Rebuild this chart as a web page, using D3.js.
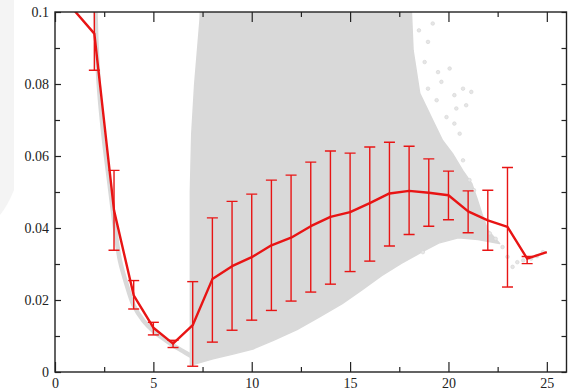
<!DOCTYPE html>
<html>
<head>
<meta charset="utf-8">
<script src="https://cdn.jsdelivr.net/npm/d3@7"></script>
<style>
  body { margin: 0; background: #fff; }
  svg { display: block; }
</style>
</head>
<body>
<div id="chart"></div>
<script>
// mean curve with error bars
const xs     = [1, 2, 3, 4, 5, 6, 7, 8, 9, 10, 11, 12, 13, 14, 15, 16, 17, 18, 19, 20, 21, 22, 23, 24, 25];
const means  = [0.1003, 0.094, 0.0449, 0.0213, 0.0123, 0.0079, 0.013, 0.0258, 0.0294, 0.0319, 0.0352, 0.0373, 0.0405, 0.0431, 0.0444, 0.0469, 0.0496, 0.0503, 0.0498, 0.0491, 0.0446, 0.0421, 0.0403, 0.0315, 0.0333];
const errLow = [null, 0.0838, 0.0338, 0.0175, 0.0103, 0.0068, 0.0016, 0.0083, 0.0116, 0.0144, 0.0171, 0.0197, 0.0222, 0.0244, 0.0279, 0.0308, 0.035, 0.0382, 0.0405, 0.0423, 0.0387, 0.0338, 0.0236, 0.0301, null];
const errHigh= [null, 0.1042, 0.056, 0.0254, 0.0138, 0.0088, 0.0251, 0.0428, 0.0474, 0.0494, 0.0533, 0.0547, 0.0583, 0.0614, 0.0608, 0.0625, 0.0638, 0.0627, 0.0592, 0.0558, 0.0503, 0.0505, 0.0568, 0.0321, null];

// thin grey band of samples for small x
const bandX = [2.05, 2.12, 2.25, 2.5, 2.8, 3.05, 3.3, 3.6, 4.0, 4.5, 5.0, 5.5, 6.0, 6.5, 6.9];
const bandY = [0.102, 0.09, 0.078, 0.064, 0.051, 0.04, 0.031, 0.025, 0.0185, 0.0142, 0.0114, 0.0093, 0.0074, 0.0058, 0.0045];

// outline of the dense grey cloud (clockwise from bottom left)
const cloudX = [6.88, 6.88, 6.95, 7.1, 7.37, 7.4, 18.1, 18.12, 18.2, 18.54, 19.2, 19.7, 20.2, 20.72, 21.18, 21.43, 21.69, 22.0, 22.6, 21.5, 20.5, 19.5, 18.7, 17.6, 16.6, 15.6, 14.6, 13.4, 12.3, 11.1, 10.06, 9.0, 8.03];
const cloudY = [0.0019, 0.05, 0.066, 0.08, 0.0977, 0.102, 0.102, 0.0996, 0.0894, 0.0774, 0.0699, 0.0643, 0.0607, 0.056, 0.0524, 0.0485, 0.0441, 0.0394, 0.0357, 0.0368, 0.0373, 0.0358, 0.0335, 0.0302, 0.0268, 0.0228, 0.019, 0.0152, 0.0118, 0.0088, 0.0064, 0.0049, 0.0037];

// stray samples outside the dense cloud
const strayX = [19.2, 18.5, 18.96, 18.79, 20.06, 19.47, 19.64, 18.96, 20.74, 21.16, 20.3, 19.4, 20.9, 20.4, 19.9, 20.3, 20.57, 20.74, 21.07, 21.3, 22.1, 22.4, 22.75, 23.0, 23.26, 23.5, 23.8, 24.2, 24.5, 24.8, 18.7];
const strayY = [0.0968, 0.0949, 0.0917, 0.0861, 0.0843, 0.0833, 0.0806, 0.0787, 0.0787, 0.0778, 0.0769, 0.0755, 0.0741, 0.0732, 0.0708, 0.069, 0.0662, 0.0588, 0.0533, 0.0505, 0.0385, 0.037, 0.0347, 0.032, 0.0292, 0.0305, 0.031, 0.0315, 0.0322, 0.0333, 0.0333];

const xTicks = [0, 5, 10, 15, 20, 25];
const xMinor = [2.5, 7.5, 12.5, 17.5, 22.5];
const yTicks = [0, 0.02, 0.04, 0.06, 0.08, 0.1];
const yMinor = [0.01, 0.03, 0.05, 0.07, 0.09];

const W = 570, H = 390;
const margin = { top: 12, right: 3.5, bottom: 18, left: 55 };
const FONT = 'Liberation Serif';

const svg = d3.select('#chart').append('svg').attr('width', W).attr('height', H);

// faint page backdrop on the left
svg.append('path')
  .attr('d', 'M0,0 L14,0 L14,190 Q8,205 0,215 Z')
  .attr('fill', '#f4f4f4');

const x = d3.scaleLinear().domain([0, 26]).range([margin.left, W - margin.right]);
const y = d3.scaleLinear().domain([0, 0.1]).range([H - margin.bottom, margin.top]);

svg.append('clipPath').attr('id', 'plot')
  .append('rect')
  .attr('x', x(0)).attr('y', y(0.1))
  .attr('width', x(26) - x(0)).attr('height', y(0) - y(0.1));

const g = svg.append('g').attr('clip-path', 'url(#plot)');

// grey cloud
g.append('path')
  .datum(d3.zip(cloudX, cloudY))
  .attr('d', d3.line().x(d => x(d[0])).y(d => y(d[1])).curve(d3.curveLinearClosed))
  .attr('fill', '#d9d9d9')
  .attr('stroke', '#d9d9d9')
  .attr('stroke-width', 1.5)
  .attr('stroke-linejoin', 'round');

g.append('path')
  .datum(d3.zip(bandX, bandY))
  .attr('d', d3.line().x(d => x(d[0])).y(d => y(d[1])).curve(d3.curveCatmullRom))
  .attr('fill', 'none')
  .attr('stroke', '#d9d9d9')
  .attr('stroke-width', 4.5)
  .attr('stroke-linecap', 'round');

g.selectAll('.stray')
  .data(d3.zip(strayX, strayY))
  .enter().append('circle')
  .attr('class', 'stray')
  .attr('cx', d => x(d[0]))
  .attr('cy', d => y(d[1]))
  .attr('r', 1.8)
  .attr('fill', '#e6e6e6')
  .attr('stroke', '#d4d4d4')
  .attr('stroke-width', 0.6);

// error bars
const red = '#e81414';
const bars = g.selectAll('.err')
  .data(xs.map((v, i) => ({ x: v, lo: errLow[i], hi: errHigh[i] })).filter(d => d.lo !== null))
  .enter().append('g')
  .attr('class', 'err')
  .attr('stroke', red)
  .attr('stroke-width', 1.4);

bars.append('line')
  .attr('x1', d => x(d.x)).attr('x2', d => x(d.x))
  .attr('y1', d => y(d.lo)).attr('y2', d => y(d.hi));
bars.append('line')
  .attr('x1', d => x(d.x) - 5.5).attr('x2', d => x(d.x) + 5.5)
  .attr('y1', d => y(d.lo)).attr('y2', d => y(d.lo));
bars.append('line')
  .attr('x1', d => x(d.x) - 5.5).attr('x2', d => x(d.x) + 5.5)
  .attr('y1', d => y(d.hi)).attr('y2', d => y(d.hi));

// mean line
g.append('path')
  .datum(d3.zip(xs, means))
  .attr('d', d3.line().x(d => x(d[0])).y(d => y(d[1])))
  .attr('fill', 'none')
  .attr('stroke', red)
  .attr('stroke-width', 2.4)
  .attr('stroke-linejoin', 'round');

// axes, ticks pointing inward on all four sides
const fmtY = d => d === 0 ? '0' : d3.format('.2~f')(d);

function styleAxis(a) {
  a.attr('font-family', FONT).attr('font-size', 14);
  a.select('.domain').remove();
  a.selectAll('.tick line').attr('stroke', '#222').attr('stroke-width', 1.2);
  a.selectAll('.tick text')
    .attr('fill', '#222')
    .attr('font-family', FONT)
    .style('font-family', FONT)
    .style('font-size', '14px');
}

svg.append('g')
  .attr('transform', `translate(0,${y(0)})`)
  .call(d3.axisBottom(x).tickValues(xTicks).tickSize(-10).tickPadding(6).tickFormat(d3.format('d')))
  .call(styleAxis);
svg.append('g')
  .attr('transform', `translate(0,${y(0)})`)
  .call(d3.axisBottom(x).tickValues(xMinor).tickSize(-5).tickFormat(''))
  .call(styleAxis);

svg.append('g')
  .attr('transform', `translate(${x(0)},0)`)
  .call(d3.axisLeft(y).tickValues(yTicks).tickSize(-6).tickPadding(6).tickFormat(fmtY))
  .call(styleAxis);
svg.append('g')
  .attr('transform', `translate(${x(0)},0)`)
  .call(d3.axisLeft(y).tickValues(yMinor).tickSize(-5).tickFormat(''))
  .call(styleAxis);

svg.append('g')
  .attr('transform', `translate(0,${y(0.1)})`)
  .call(d3.axisTop(x).tickValues(xTicks).tickSize(-10).tickFormat(''))
  .call(styleAxis);
svg.append('g')
  .attr('transform', `translate(0,${y(0.1)})`)
  .call(d3.axisTop(x).tickValues(xMinor).tickSize(-5).tickFormat(''))
  .call(styleAxis);

svg.append('g')
  .attr('transform', `translate(${x(26)},0)`)
  .call(d3.axisRight(y).tickValues(yTicks.concat(yMinor)).tickSize(-5).tickFormat(''))
  .call(styleAxis);

// frame
svg.append('rect')
  .attr('x', x(0)).attr('y', y(0.1))
  .attr('width', x(26) - x(0)).attr('height', y(0) - y(0.1))
  .attr('fill', 'none')
  .attr('stroke', '#222')
  .attr('stroke-width', 1.4);
</script>
</body>
</html>
